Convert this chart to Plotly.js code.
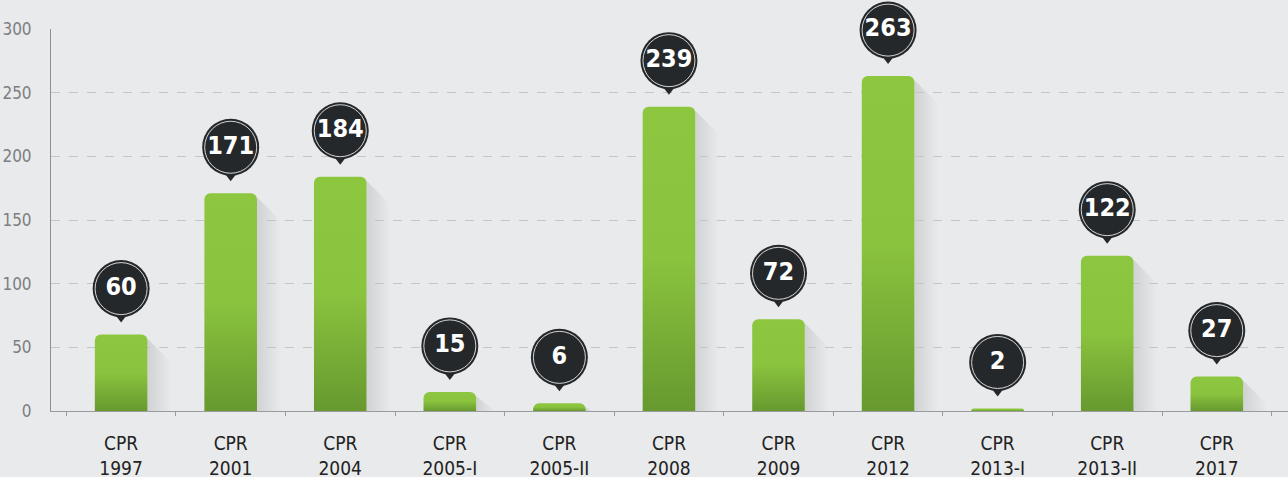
<!DOCTYPE html>
<html><head><meta charset="utf-8">
<script src="https://cdn.plot.ly/plotly-3.0.1.min.js"></script>
<style>html,body{margin:0;padding:0;background:#e9eaeb;}#chart{width:1288px;height:477px;}</style>
</head><body><div id="chart"></div>
<script>
const categories = ["CPR<br>1997","CPR<br>2001","CPR<br>2004","CPR<br>2005-I","CPR<br>2005-II","CPR<br>2008","CPR<br>2009","CPR<br>2012","CPR<br>2013-I","CPR<br>2013-II","CPR<br>2017"];
const values = [60,171,184,15,6,239,72,263,2,122,27];
const labels = values.map(String);

const plotTop = 29, plotBottom = 411, yMax = 300;
const pxPerUnit = (plotBottom - plotTop) / yMax;
const off = px => px / pxPerUnit;
const barWidth = 0.48;
const catPx = (1288 - 51) / (10.65 + 0.64);

const FONT = '"DejaVu Sans Condensed", "Liberation Sans Narrow", sans-serif';
const dark = '#25282b';

const traces = [
  {type:'bar', x:categories, y:values, width:barWidth,
   marker:{color:'#8cc63f', cornerradius:6, line:{width:0}}, hoverinfo:'skip'},
  {type:'scatter', mode:'markers', x:categories, y:values.map(v=>v+off(20)), cliponaxis:false,
   marker:{symbol:'triangle-down', size:16, color:dark, line:{width:0}}, hoverinfo:'skip'},
  {type:'scatter', mode:'markers', x:categories, y:values.map(v=>v+off(46)), cliponaxis:false,
   marker:{symbol:'circle', size:57, color:dark, line:{width:0}}, hoverinfo:'skip'},
  {type:'scatter', mode:'markers+text', x:categories, y:values.map(v=>v+off(46)), cliponaxis:false,
   text:labels, textposition:'middle center',
   textfont:{family:FONT, size:25, color:'#ffffff', weight:'bold'},
   marker:{symbol:'circle', size:52, color:dark, line:{width:1, color:'rgba(255,255,255,0.8)'}}, hoverinfo:'skip'},
  {type:'scatter', mode:'markers', x:categories, y:values.map(()=>-off(6)), cliponaxis:false,
   marker:{symbol:'triangle-down', size:13, color:'#5a5c5e', line:{width:0}}, hoverinfo:'skip'}
];

// soft diagonal shadows to the right of each bar
const shapes = values.map((v, i) => {
  const x0 = i + barWidth / 2;
  const d = Math.min(24, v * pxPerUnit);
  const x1 = x0 + d / catPx;
  const yTop = v - off(4);
  return {type:'path', layer:'below', xref:'x', yref:'y', line:{width:0},
    fillcolor:'rgba(60,60,70,0.09)',
    path:`M ${x0} ${Math.max(yTop,0)} L ${x1} ${Math.max(yTop - off(d),0)} L ${x1} 0 L ${x0} 0 Z`};
});

const layout = {
  width:1288, height:477,
  margin:{l:51, r:0, t:plotTop, b:477-plotBottom, pad:0},
  paper_bgcolor:'#e9eaeb', plot_bgcolor:'rgba(0,0,0,0)',
  showlegend:false, shapes:shapes,
  xaxis:{type:'category', range:[-0.64,10.65], showgrid:false, zeroline:false,
    showline:true, linecolor:'#9a9b9d', linewidth:1,
    ticks:'outside', tickson:'boundaries', ticklen:4, tickcolor:'#9a9b9d',
    tickfont:{family:FONT, size:19, color:'#222222'}, ticklabelstandoff:15},
  yaxis:{range:[0,300], tickvals:[0,50,100,150,200,250,300], showgrid:true,
    gridcolor:'#c4c5c7', griddash:'dash', gridwidth:1, zeroline:false,
    showline:true, linecolor:'#8e8f91', linewidth:1, ticks:'', ticklabelstandoff:15,
    tickfont:{family:FONT, size:17, color:'#7d7e80'}},
  bargap:0.52
};

Plotly.newPlot('chart', traces, layout, {staticPlot:true, displayModeBar:false}).then(gd => {
  const svg = gd.querySelector('svg.main-svg');
  const ns = 'http://www.w3.org/2000/svg';
  let defs = svg.querySelector('defs');
  if (!defs) { defs = document.createElementNS(ns,'defs'); svg.insertBefore(defs, svg.firstChild); }
  const mk = (id, x2, y2, stops) => {
    const g = document.createElementNS(ns,'linearGradient');
    g.setAttribute('id', id);
    g.setAttribute('x1','0'); g.setAttribute('y1','0'); g.setAttribute('x2',x2); g.setAttribute('y2',y2);
    stops.forEach(([o,c,a])=>{
      const s = document.createElementNS(ns,'stop'); s.setAttribute('offset',o); s.setAttribute('stop-color',c);
      s.setAttribute('stop-opacity', a); g.appendChild(s);
    });
    defs.appendChild(g);
  };
  mk('barGrad','0','1',[['0','#8dc63f',1],['0.5','#8ac33e',1],['1','#67992f',1]]);
  mk('shadowGrad','1','0',[['0','#50525a',0.16],['1','#50525a',0.0]]);
  gd.querySelectorAll('.barlayer .point path').forEach(p => { p.style.fill = 'url(#barGrad)'; });
  gd.querySelectorAll('.shapelayer path').forEach(p => { p.style.fill = 'url(#shadowGrad)'; p.style.fillOpacity = 1; });
});
</script></body></html>
